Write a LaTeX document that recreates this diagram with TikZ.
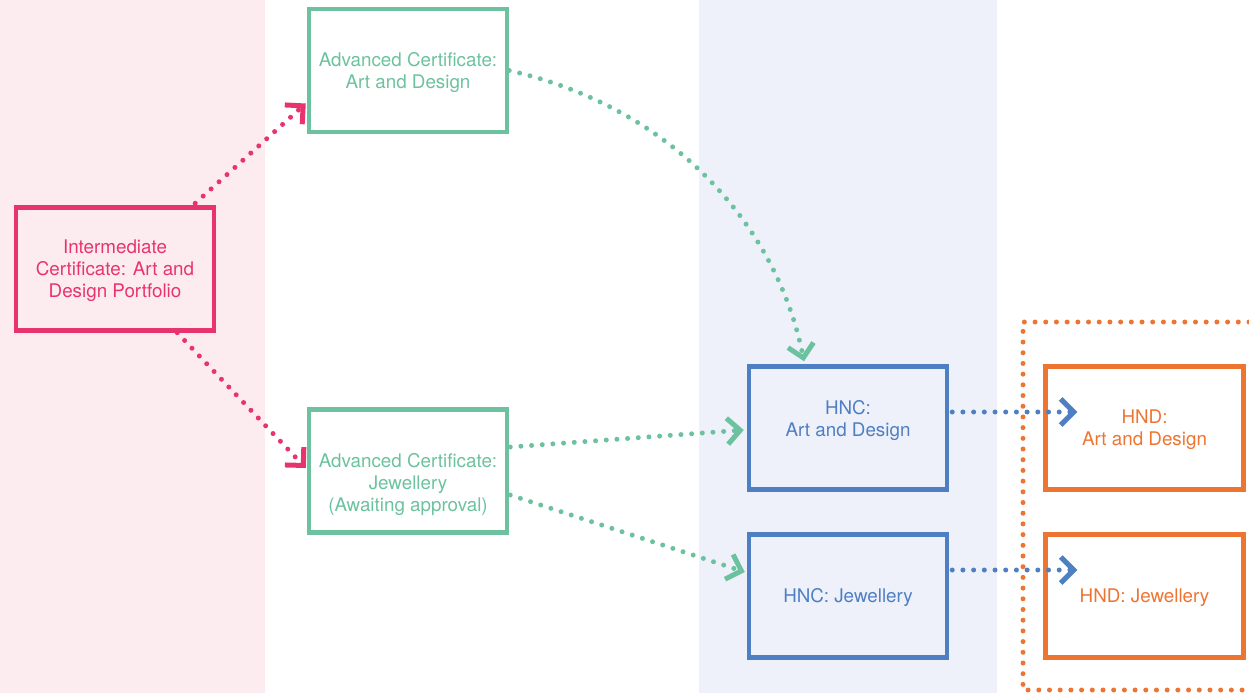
\documentclass[tikz,border=0pt]{standalone}
\usepackage{xcolor}
\usepackage{fontspec}
\setmainfont{TeX Gyre Heros}
\usepackage{tikz}
\usetikzlibrary{arrows.meta, calc}
\definecolor{pinkline}{HTML}{E8346E}
\definecolor{pinkback}{HTML}{FDECEF}
\definecolor{greenline}{HTML}{6CC29E}
\definecolor{blueline}{HTML}{4F7FC3}
\definecolor{blueback}{HTML}{EEF1FA}
\definecolor{orangeline}{HTML}{EE7432}

\begin{document}
\begin{tikzpicture}[x=0.02cm, y=-0.02cm, every text node part/.style={align=center},
  font=\fontsize{10.7}{12.6}\selectfont,
  box/.style={draw, shape=rectangle, line width=0.09cm, minimum width=3.96cm, minimum height=2.46cm, inner sep=0pt},
  dots/.style={line width=0.1cm, line cap=round, dash pattern=on 0pt off 0.214cm},
  chev/.style={-{Straight Barb[length=0.26cm, width=0.52cm]}}]
\useasboundingbox (0,0) rectangle (1249,693);
\fill [pinkback] (0,0) rectangle (265,693);
\fill [blueback] (699,0) rectangle (997,693);
\node [box, color=pinkline] (inter) at (115,269) {\rule{0pt}{10pt}Intermediate\\Certificate: Art and\\Design Portfolio};
\node [box, color=greenline] (adva) at (408,70.5) {\rule{0pt}{10pt}Advanced Certificate:\\Art and Design};
\node [box, color=greenline] (advj) at (408,471) {\rule{0pt}{23.5pt}Advanced Certificate:\\Jewellery\\(Awaiting approval)};
\node [box, color=blueline] (hnca) at (848,428) {HNC:\\Art and Design\rule[-11pt]{0pt}{0pt}};
\node [box, color=blueline] (hncj) at (848,596) {\rule{0pt}{10pt}HNC: Jewellery};
\node [box, color=orangeline] (hnda) at (1144.5,428) {\rule{0pt}{10pt}HND:\\Art and Design};
\node [box, color=orangeline] (hndj) at (1144.5,596) {\rule{0pt}{10pt}HND: Jewellery};
\draw [dots, orangeline] (1249,322) -- (1023,322) -- (1023,690) -- (1249,690);
\draw [dots, chev, pinkline] ($(inter.north east)+(-21,-2)$) -- ($(adva.west)+(-1,33)$);
\draw [dots, chev, pinkline] ($(inter.south east)+(-39,0)$) -- ($(advj.west)+(-1,-3)$);
\draw [dots, chev, greenline] (adva.east) .. controls +(170,39) and +(-26,-130) .. ($(hnca.north)+(-44,-3)$);
\draw [dots, chev, greenline] ($(advj.east)+(1,-24)$) -- ($(hnca.west)+(-3,2)$);
\draw [dots, chev, greenline] ($(advj.east)+(1,24)$) -- ($(hncj.west)+(-2,-24)$);
\draw [dots, chev, blueline] ($(hnca.east)+(3,-16)$) -- ($(hnda.west)+(34,-16)$);
\draw [dots, chev, blueline] ($(hncj.east)+(3,-26)$) -- ($(hndj.west)+(34,-26)$);
\end{tikzpicture}
\end{document}
